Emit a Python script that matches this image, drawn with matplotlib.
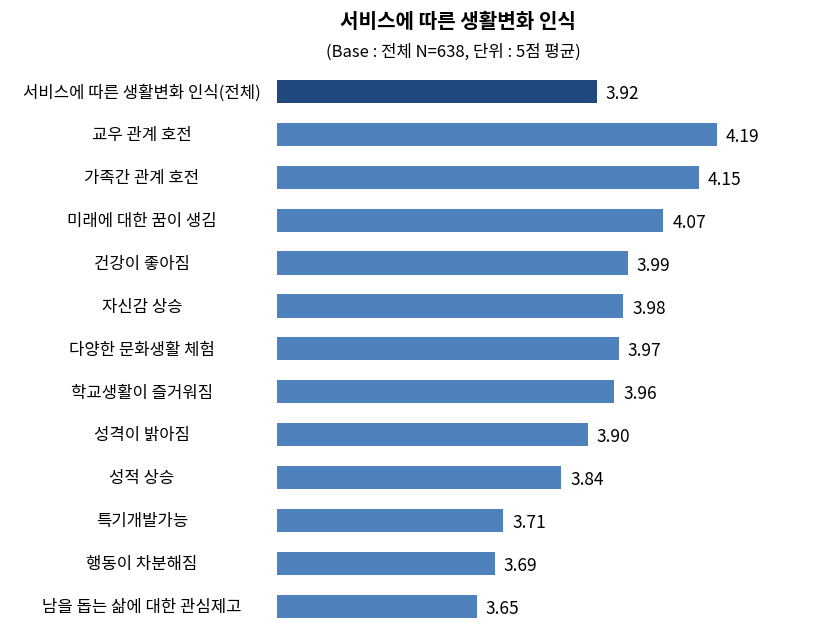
import matplotlib.pyplot as plt

plt.rcParams['font.family'] = ['Noto Sans CJK KR', 'DejaVu Sans']

categories = [
    '서비스에 따른 생활변화 인식(전체)',
    '교우 관계 호전',
    '가족간 관계 호전',
    '미래에 대한 꿈이 생김',
    '건강이 좋아짐',
    '자신감 상승',
    '다양한 문화생활 체험',
    '학교생활이 즐거워짐',
    '성격이 밝아짐',
    '성적 상승',
    '특기개발가능',
    '행동이 차분해짐',
    '남을 돕는 삶에 대한 관심제고',
]
values = [3.92, 4.19, 4.15, 4.07, 3.99, 3.98, 3.97, 3.96, 3.90, 3.84, 3.71, 3.69, 3.65]

W, H = 839, 638
fig = plt.figure(figsize=(W / 100, H / 100), dpi=100)

# 축 위치 (픽셀 기준)
left, right, top, bottom = 277, 820, 70, 627.7
ax = fig.add_axes([left / W, 1 - bottom / H, (right - left) / W, (bottom - top) / H])

colors = ['#1F497D'] + ['#4F81BD'] * (len(values) - 1)
ypos = list(range(len(categories)))
ax.barh(ypos, values, height=0.54, color=colors, left=0)

xmin = 3.2
ax.set_xlim(xmin, xmin + (right - left) / 444)
ax.set_ylim(len(categories) - 0.5, -0.5)
ax.axis('off')

for y, v in zip(ypos, values):
    ax.text(v + 0.02, y + 0.06, f'{v:.2f}', va='center', ha='left', fontsize=12.5)

# 항목 라벨 (가운데 정렬)
for y, c in zip(ypos, categories):
    ax.text(142 / W, ax.transData.transform((0, y + 0.03))[1] / fig.dpi / fig.get_figheight(),
            c, transform=fig.transFigure, ha='center', va='center', fontsize=12)

fig.text(458 / W, 1 - 22 / H, '서비스에 따른 생활변화 인식', ha='center', va='center',
         fontsize=14.5, fontweight='bold')
fig.text(453 / W, 1 - 52 / H, '(Base : 전체 N=638, 단위 : 5점 평균)', ha='center', va='center',
         fontsize=12)

fig.savefig('out.png', dpi=100)
